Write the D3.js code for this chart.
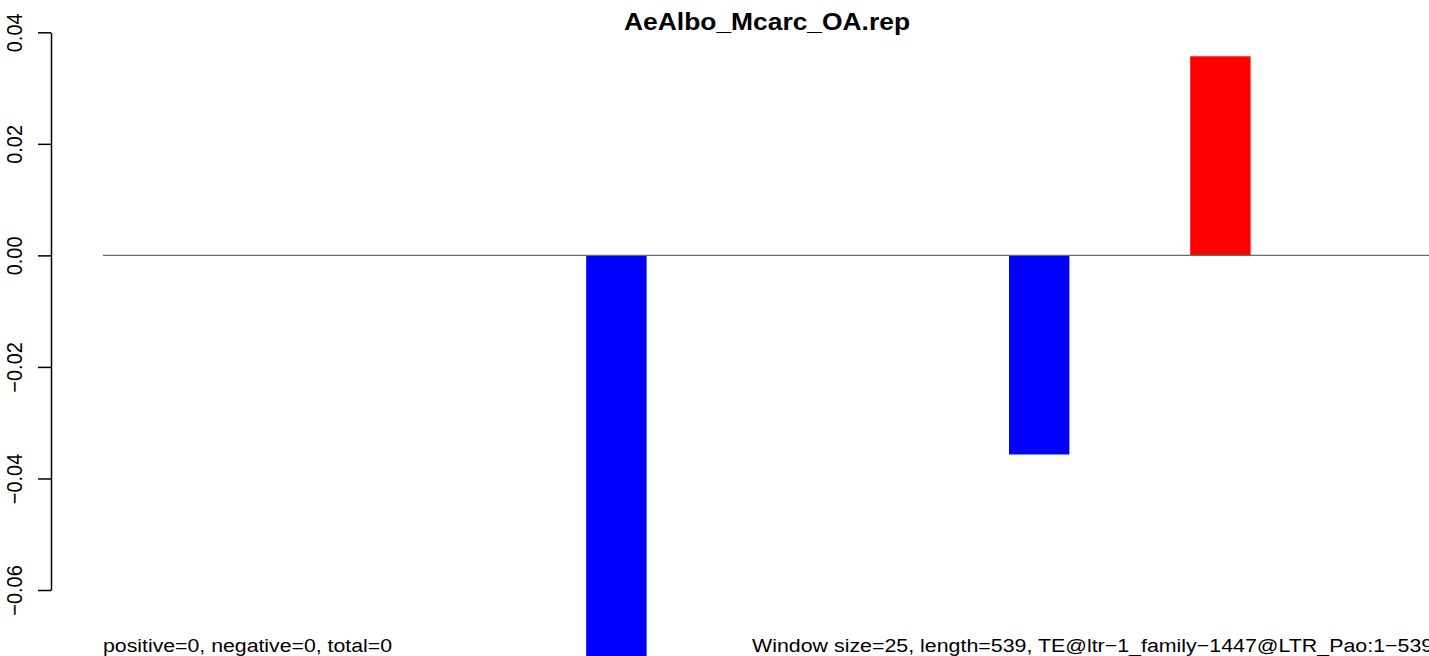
<!DOCTYPE html>
<html>
<head>
<meta charset="utf-8">
<script src="https://cdn.jsdelivr.net/npm/d3@7"></script>
<style>
html,body{margin:0;padding:0;background:#fff;overflow:hidden;}
svg{display:block;}
text{font-family:"Liberation Sans",Arial,Helvetica,sans-serif;}
</style>
</head>
<body>
<svg id="chart" width="1429" height="656"></svg>
<script>
// ---- data ----
const titleText = "AeAlbo_Mcarc_OA.rep";
const windowSize = 25;
const seqLength = 539;
// one value per 25-bp window (22 windows)
const windowValues = [0,0,0,0,0,0,0,0,-0.0722,0,0,0,0,0,0,-0.0357,0,0,0.0357,0,0,0];
const yTicks = [-0.06, -0.04, -0.02, 0.00, 0.02, 0.04];
const yTickLabels = ["\u22120.06", "\u22120.04", "\u22120.02", "0.00", "0.02", "0.04"];
const leftNote = "positive=0, negative=0, total=0";
const rightNote = "Window size=25, length=539, TE@ltr\u22121_family\u22121447@LTR_Pao:1\u2212539";

// ---- layout ----
const W = 1429, H = 656;
const svg = d3.select("#chart");
const sx = 1.12; // horizontal stretch of glyphs

const x = d3.scaleLinear().domain([0, 550]).range([103, 103 + 550 * 60.4 / 25]);
const y = d3.scaleLinear().domain([-0.06, 0.04]).range([590, 32.3]);

const bars = windowValues.map((v, i) => ({start: i * windowSize, v})).filter(d => d.v !== 0);

svg.append("g").selectAll("rect").data(bars).join("rect")
  .attr("x", d => x(d.start))
  .attr("width", d => x(d.start + windowSize) - x(d.start))
  .attr("y", d => y(Math.max(0, d.v)))
  .attr("height", d => Math.abs(y(d.v) - y(0)))
  .attr("fill", d => d.v > 0 ? "#ff0000" : "#0000ff");

// zero line
svg.append("line")
  .attr("x1", x(0)).attr("x2", W + 5)
  .attr("y1", y(0)).attr("y2", y(0))
  .attr("stroke", "#6a6a6a").attr("stroke-width", 1.3);

// y axis
const axisX = 51;
const ax = svg.append("g").attr("transform", `translate(${axisX},0)`)
  .call(d3.axisLeft(y).tickValues(yTicks).tickSize(13).tickSizeOuter(0)
    .tickFormat((d, i) => yTickLabels[i]));
ax.select(".domain").attr("stroke", "#000").attr("stroke-width", 1.5);
ax.selectAll(".tick line").attr("stroke", "#000").attr("stroke-width", 1.5);
ax.selectAll(".tick text")
  .attr("x", null).attr("dy", null)
  .attr("fill", "#000")
  .style("font-size", "20px")
  .attr("text-anchor", "middle")
  .attr("transform", `translate(${22 - axisX},0) scale(${sx},1) rotate(-90)`);

// title
svg.append("text")
  .attr("transform", `translate(767,30) scale(1.1,1)`)
  .attr("text-anchor", "middle")
  .style("font-size", "24px").style("font-weight", "bold")
  .attr("fill", "#000")
  .text(titleText);

// bottom notes
svg.append("text")
  .attr("transform", `translate(103,652) scale(${sx},1)`)
  .style("font-size", "19px").attr("fill", "#000")
  .text(leftNote);
svg.append("text")
  .attr("transform", `translate(752,652) scale(1.125,1)`)
  .style("font-size", "19px").attr("fill", "#000")
  .text(rightNote);
</script>
</body>
</html>
